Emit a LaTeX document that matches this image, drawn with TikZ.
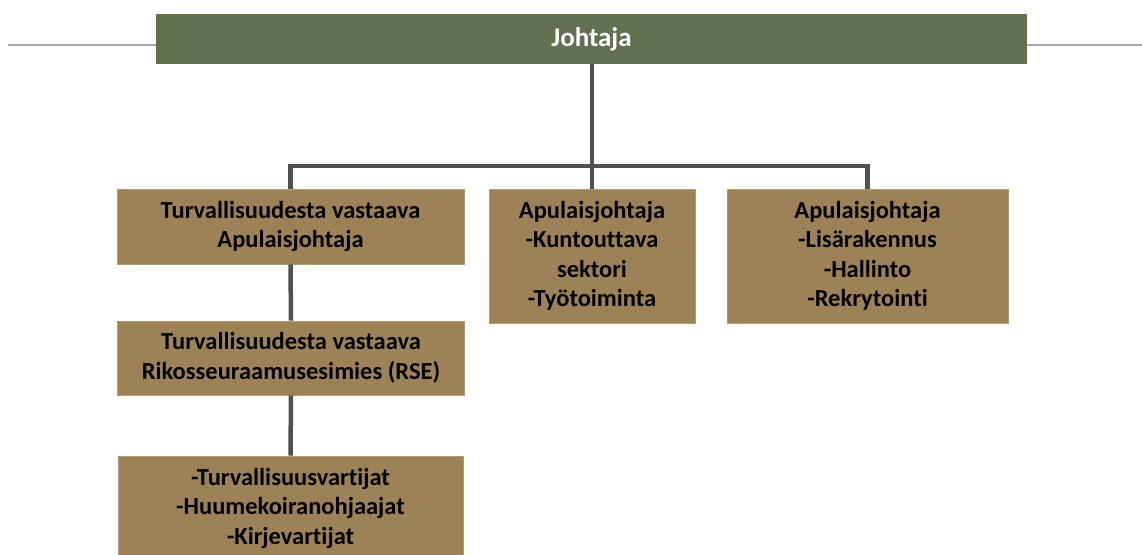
\documentclass[tikz,border=0pt]{standalone}
\usepackage{fontspec}
\setmainfont{Carlito}[Ligatures={NoCommon}]
\definecolor{barGreen}{HTML}{627050}
\definecolor{boxBrown}{HTML}{9C8256}
\definecolor{connGray}{HTML}{505050}
\definecolor{thinGray}{HTML}{A6A6A6}
\begin{document}
\begin{tikzpicture}[x=1pt,y=-1pt,
  orgbox/.style={fill=boxBrown, draw=boxBrown!80!white, line width=0.6pt, inner sep=0pt, align=center,
    font=\fontsize{24.5}{29.5}\selectfont\bfseries, text=black},
  conn/.style={draw=connGray, line width=4.5pt},
  thin/.style={draw=thinGray, line width=1.4pt}]
\useasboundingbox (0,0) rectangle (1142,554);
\node[fill=barGreen, minimum width=871pt, minimum height=50pt, inner sep=0pt,
  font=\fontsize{27}{30}\selectfont\bfseries, text=white] (top) at (591.5,39) {Johtaja};
\node[orgbox, minimum width=347pt, minimum height=75pt] (a) at (290.5,226.5)
  {Turvallisuudesta vastaava\\Apulaisjohtaja};
\node[orgbox, minimum width=206pt, minimum height=134pt] (b) at (592,256)
  {Apulaisjohtaja\\-Kuntouttava\\sektori\\-Työtoiminta};
\node[orgbox, minimum width=281pt, minimum height=134pt] (c) at (867.5,256)
  {Apulaisjohtaja\\-Lisärakennus\\-Hallinto\\-Rekrytointi};
\node[orgbox, minimum width=347pt, minimum height=74pt] (d) at (291,358)
  {Turvallisuudesta vastaava\\Rikosseuraamusesimies (RSE)};
\node[orgbox, minimum width=345pt, minimum height=104pt] (e) at (290.5,508)
  {-Turvallisuusvartijat\\-Huumekoiranohjaajat\\-Kirjevartijat};
\coordinate (bus) at (592,166);
\coordinate (ll) at (8,45);
\coordinate (rr) at (1142,45);
\draw[thin] (ll) -- (ll -| top.west);
\draw[thin] (rr -| top.east) -- (rr);
\draw[conn] (top.south -| b.north) -- (b.north);
\draw[conn] (a.north) |- (bus) -| (c.north);
\draw[conn] (a.south) -- (d.north);
\draw[conn] (d.south) -- (e.north);
\end{tikzpicture}
\end{document}
